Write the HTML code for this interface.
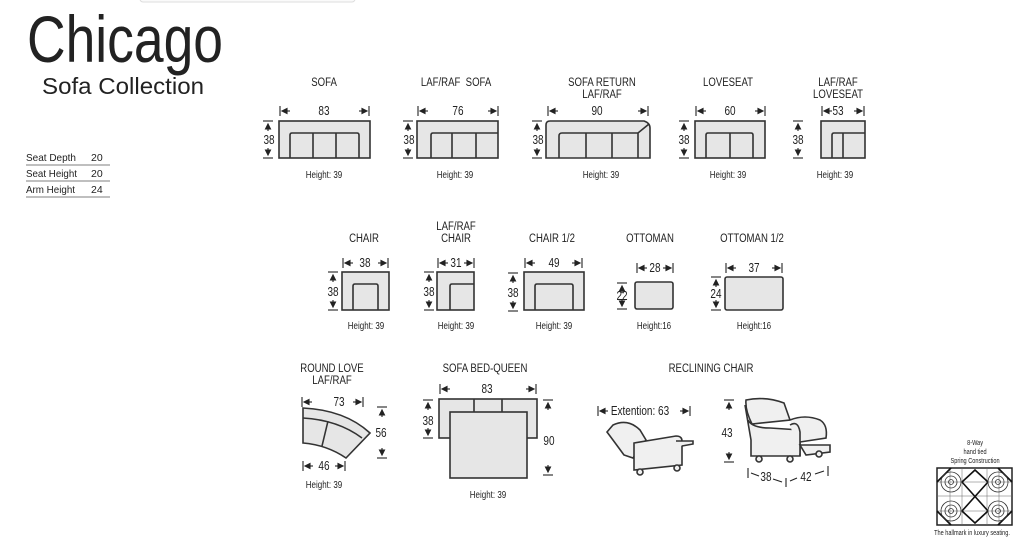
<!DOCTYPE html>
<html><head><meta charset="utf-8"><style>
html,body{margin:0;padding:0;background:#fff;}
svg{display:block}
text{font-family:"Liberation Sans Narrow","Liberation Sans",sans-serif;fill:#222}
.l,.d,.h,.s{transform-box:fill-box;transform-origin:center;transform:scaleX(.8)}
.l{font-size:12px;text-anchor:middle}
.d{font-size:12.5px;text-anchor:middle}
.h{font-size:10px;text-anchor:middle}
.b{fill:#e6e6e6;stroke:#333;stroke-width:1.6}
.n{fill:none;stroke:#333;stroke-width:1.6}
.a{stroke:#222;stroke-width:1.1;fill:#222}
</style></head><body>
<svg width="1024" height="540" viewBox="0 0 1024 540" xmlns="http://www.w3.org/2000/svg">
<defs>
<g id="hl"><line x1="0" y1="-5" x2="0" y2="5" class="a"/><polygon points="2,0 7,-2.5 7,2.5" class="a"/><line x1="7" y1="0" x2="10" y2="0" class="a"/></g>
<g id="hr"><line x1="0" y1="-5" x2="0" y2="5" class="a"/><polygon points="-2,0 -7,-2.5 -7,2.5" class="a"/><line x1="-7" y1="0" x2="-10" y2="0" class="a"/></g>
<g id="vt"><line x1="-5" y1="0" x2="5" y2="0" class="a"/><polygon points="0,3 -2.5,8 2.5,8" class="a"/><line x1="0" y1="8" x2="0" y2="10" class="a"/></g>
<g id="vb"><line x1="-5" y1="0" x2="5" y2="0" class="a"/><polygon points="0,-3 -2.5,-8 2.5,-8" class="a"/><line x1="0" y1="-8" x2="0" y2="-10" class="a"/></g>
</defs>
<rect x="140" y="-6" width="215" height="8" rx="3" fill="#fafafa" stroke="#ddd"/>
<text x="27" y="62" style="font-size:66px" textLength="196" lengthAdjust="spacingAndGlyphs">Chicago</text>
<text x="42" y="94" style="font-size:23px" textLength="162" lengthAdjust="spacingAndGlyphs">Sofa Collection</text>
<g style="font-size:10.5px">
<text x="26" y="161" textLength="50" lengthAdjust="spacingAndGlyphs">Seat Depth</text><text x="91" y="161">20</text>
<text x="26" y="177" textLength="51" lengthAdjust="spacingAndGlyphs">Seat Height</text><text x="91" y="177">20</text>
<text x="26" y="193" textLength="49" lengthAdjust="spacingAndGlyphs">Arm Height</text><text x="91" y="193">24</text>
</g>
<g stroke="#555" stroke-width="0.8"><line x1="26" y1="165" x2="110" y2="165"/><line x1="26" y1="181" x2="110" y2="181"/><line x1="26" y1="197" x2="110" y2="197"/></g>

<!-- SOFA -->
<text class="l" x="324" y="86">SOFA</text>
<use href="#hl" x="280" y="111"/><use href="#hr" x="369" y="111"/><text class="d" x="324" y="115">83</text>
<use href="#vt" x="268" y="121"/><use href="#vb" x="268" y="158"/><text class="d" x="269" y="144">38</text>
<rect class="b" x="279" y="121" width="91" height="37"/>
<path class="n" d="M290,158 V135 Q290,133 292,133 H357 Q359,133 359,135 V158 M313,133 V158 M336,133 V158"/>
<text class="h" x="324" y="178">Height: 39</text>

<!-- LAF/RAF SOFA -->
<text class="l" x="456" y="86">LAF/RAF&#160; SOFA</text>
<use href="#hl" x="418" y="111"/><use href="#hr" x="498" y="111"/><text class="d" x="458" y="115">76</text>
<use href="#vt" x="408" y="121"/><use href="#vb" x="408" y="158"/><text class="d" x="409" y="144">38</text>
<rect class="b" x="417" y="121" width="81" height="37"/>
<path class="n" d="M431,158 V135 Q431,133 433,133 H498 M452,133 V158 M476,133 V158"/>
<text class="h" x="455" y="178">Height: 39</text>

<!-- SOFA RETURN -->
<text class="l" x="602" y="86">SOFA RETURN</text><text class="l" x="602" y="98">LAF/RAF</text>
<use href="#hl" x="548" y="111"/><use href="#hr" x="648" y="111"/><text class="d" x="597" y="115">90</text>
<use href="#vt" x="537" y="121"/><use href="#vb" x="537" y="158"/><text class="d" x="538" y="144">38</text>
<path class="b" d="M546,158 V125 Q546,121 550,121 H644 Q650,123 650,128 V158 Z"/>
<path class="n" d="M559,158 V136 Q559,133 562,133 H638 L649,124 M586,133 V158 M612,133 V158 M638,133 V158"/>
<text class="h" x="601" y="178">Height: 39</text>

<!-- LOVESEAT -->
<text class="l" x="728" y="86">LOVESEAT</text>
<use href="#hl" x="696" y="111"/><use href="#hr" x="765" y="111"/><text class="d" x="730" y="115">60</text>
<use href="#vt" x="684" y="121"/><use href="#vb" x="684" y="158"/><text class="d" x="684" y="144">38</text>
<rect class="b" x="695" y="121" width="70" height="37"/>
<path class="n" d="M706,158 V135 Q706,133 708,133 H751 Q753,133 753,135 V158 M730,133 V158"/>
<text class="h" x="728" y="178">Height: 39</text>

<!-- LAF/RAF LOVESEAT -->
<text class="l" x="838" y="86">LAF/RAF</text><text class="l" x="838" y="98">LOVESEAT</text>
<use href="#hl" x="822" y="111"/><use href="#hr" x="864" y="111"/><text class="d" x="838" y="115">53</text>
<use href="#vt" x="798" y="121"/><use href="#vb" x="798" y="158"/><text class="d" x="798" y="144">38</text>
<rect class="b" x="821" y="121" width="44" height="37"/>
<path class="n" d="M832,158 V135 Q832,133 834,133 H865 M843,133 V158"/>
<text class="h" x="835" y="178">Height: 39</text>

<!-- CHAIR -->
<text class="l" x="364" y="242">CHAIR</text>
<use href="#hl" x="343" y="263"/><use href="#hr" x="388" y="263"/><text class="d" x="365" y="267">38</text>
<use href="#vt" x="333" y="272"/><use href="#vb" x="333" y="310"/><text class="d" x="333" y="296">38</text>
<rect class="b" x="342" y="272" width="47" height="38"/>
<path class="n" d="M353,310 V286 Q353,284 355,284 H376 Q378,284 378,286 V310"/>
<text class="h" x="366" y="329">Height: 39</text>

<!-- LAF/RAF CHAIR -->
<text class="l" x="456" y="230">LAF/RAF</text><text class="l" x="456" y="242">CHAIR</text>
<use href="#hl" x="438" y="263"/><use href="#hr" x="474" y="263"/><text class="d" x="456" y="267">31</text>
<use href="#vt" x="429" y="272"/><use href="#vb" x="429" y="310"/><text class="d" x="429" y="296">38</text>
<rect class="b" x="437" y="272" width="37" height="38"/>
<path class="n" d="M450,310 V286 Q450,284 452,284 H474"/>
<text class="h" x="456" y="329">Height: 39</text>

<!-- CHAIR 1/2 -->
<text class="l" x="552" y="242">CHAIR 1/2</text>
<use href="#hl" x="525" y="263"/><use href="#hr" x="582" y="263"/><text class="d" x="554" y="267">49</text>
<use href="#vt" x="513" y="273"/><use href="#vb" x="513" y="311"/><text class="d" x="513" y="297">38</text>
<rect class="b" x="524" y="272" width="60" height="38"/>
<path class="n" d="M535,310 V286 Q535,284 537,284 H571 Q573,284 573,286 V310"/>
<text class="h" x="554" y="329">Height: 39</text>

<!-- OTTOMAN -->
<text class="l" x="650" y="242">OTTOMAN</text>
<use href="#hl" x="637" y="268"/><use href="#hr" x="673" y="268"/><text class="d" x="655" y="272">28</text>
<use href="#vt" x="622" y="283"/><use href="#vb" x="622" y="309"/><text class="d" x="622" y="300">22</text>
<rect class="b" x="635" y="282" width="38" height="27" rx="2"/>
<text class="h" x="654" y="329">Height:16</text>

<!-- OTTOMAN 1/2 -->
<text class="l" x="752" y="242">OTTOMAN 1/2</text>
<use href="#hl" x="726" y="268"/><use href="#hr" x="782" y="268"/><text class="d" x="754" y="272">37</text>
<use href="#vt" x="716" y="277"/><use href="#vb" x="716" y="310"/><text class="d" x="716" y="298">24</text>
<rect class="b" x="725" y="277" width="58" height="33" rx="2"/>
<text class="h" x="754" y="329">Height:16</text>

<!-- ROUND LOVE -->
<text class="l" x="332" y="372">ROUND LOVE</text><text class="l" x="332" y="384">LAF/RAF</text>
<use href="#hl" x="302" y="402"/><use href="#hr" x="363" y="402"/><text class="d" x="339" y="406">73</text>
<use href="#vt" x="382" y="407"/><use href="#vb" x="382" y="458"/><text class="d" x="381" y="437">56</text>
<path class="b" d="M303,408 Q345,410 370,433 L346,458 Q327,445 303,443 Z"/>
<path class="n" d="M303,418 Q338,420 362,438 M328,421 L322,446"/>
<use href="#hl" x="303" y="466"/><use href="#hr" x="345" y="466"/><text class="d" x="324" y="470">46</text>
<text class="h" x="324" y="488">Height: 39</text>

<!-- SOFA BED -->
<text class="l" x="485" y="372">SOFA BED-QUEEN</text>
<use href="#hl" x="440" y="389"/><use href="#hr" x="536" y="389"/><text class="d" x="487" y="393">83</text>
<use href="#vt" x="428" y="400"/><use href="#vb" x="428" y="438"/><text class="d" x="428" y="425">38</text>
<use href="#vt" x="548" y="400"/><use href="#vb" x="548" y="475"/><text class="d" x="549" y="445">90</text>
<rect class="b" x="439" y="399" width="98" height="39"/>
<path class="n" d="M474,399 V412 M502,399 V412"/>
<rect class="b" x="450" y="412" width="77" height="66"/>
<text class="h" x="488" y="498">Height: 39</text>

<!-- RECLINING -->
<text class="l" x="711" y="372">RECLINING CHAIR</text>
<use href="#hl" x="598" y="411"/><use href="#hr" x="690" y="411"/><text class="d" x="640" y="415">Extention: 63</text>
<g class="n" style="fill:#f0f0f0">
<path d="M613,425 Q628,418 640,430 L646,440 L633,458 L624,455 Q613,440 607,432 Z"/>
<path d="M634,443 L676,436 Q682,436 682,441 L682,465 L634,470 Z"/>
<path d="M676,441 L693,441 L693,444 L682,446"/>
<circle cx="640" cy="472" r="3"/><circle cx="677" cy="468" r="3"/>
<path d="M746,400 Q765,396 784,403 L790,420 L752,424 Q745,410 746,400 Z"/>
<path d="M745,405 L751,440 L751,456 L800,456 L800,430 L770,428 Q752,428 748,420"/>
<path d="M790,420 Q805,414 820,420 Q828,425 826,438 L800,442"/>
<path d="M790,425 Q798,420 800,432 L800,456"/>
<path d="M800,445 L830,445 L830,452 L806,455 Z"/>
<circle cx="759" cy="459" r="3"/><circle cx="790" cy="459" r="3"/><circle cx="819" cy="454" r="3"/>
</g>
<use href="#vt" x="729" y="400"/><use href="#vb" x="729" y="462"/><text class="d" x="727" y="437">43</text>
<text class="d" x="766" y="481">38</text><text class="d" x="806" y="481">42</text>
<g class="a"><line x1="748" y1="468" x2="748" y2="478"/><line x1="751" y1="473" x2="759" y2="476"/><line x1="786" y1="478" x2="786" y2="487"/><line x1="773" y1="479" x2="782" y2="482"/><line x1="790" y1="481" x2="797" y2="478"/><line x1="828" y1="466" x2="828" y2="476"/><line x1="815" y1="474" x2="824" y2="471"/></g>

<!-- spring box -->
<g style="font-size:7px;text-anchor:middle"><text class="s" x="975" y="445">8-Way</text><text class="s" x="975" y="454">hand tied</text><text class="s" x="975" y="463">Spring Construction</text><text class="s" x="972" y="535">The hallmark in luxury seating.</text></g>
<rect x="937" y="468" width="75" height="57" fill="#fff" stroke="#222" stroke-width="1.5"/>
<g stroke="#666" stroke-width="0.5"><line x1="950" y1="468" x2="950" y2="525"/><line x1="962" y1="468" x2="962" y2="525"/><line x1="987" y1="468" x2="987" y2="525"/><line x1="999" y1="468" x2="999" y2="525"/><line x1="937" y1="482" x2="1012" y2="482"/><line x1="937" y1="496" x2="1012" y2="496"/><line x1="937" y1="511" x2="1012" y2="511"/></g>
<g fill="none" stroke="#111" stroke-width="1.6"><path d="M937,482 L951,468 M937,511 L951,525 M1012,482 L998,468 M1012,511 L998,525 M962,482 L975,470 L988,482 M962,511 L975,523 L988,511 M962,482 L988,511 M988,482 L962,511"/></g>
<g fill="none" stroke="#333" stroke-width="0.8">
<circle cx="951" cy="482" r="10"/><circle cx="951" cy="482" r="6"/><circle cx="951" cy="482" r="2.5"/>
<circle cx="998" cy="482" r="10"/><circle cx="998" cy="482" r="6"/><circle cx="998" cy="482" r="2.5"/>
<circle cx="951" cy="511" r="10"/><circle cx="951" cy="511" r="6"/><circle cx="951" cy="511" r="2.5"/>
<circle cx="998" cy="511" r="10"/><circle cx="998" cy="511" r="6"/><circle cx="998" cy="511" r="2.5"/>
</g>
</svg>
</body></html>
